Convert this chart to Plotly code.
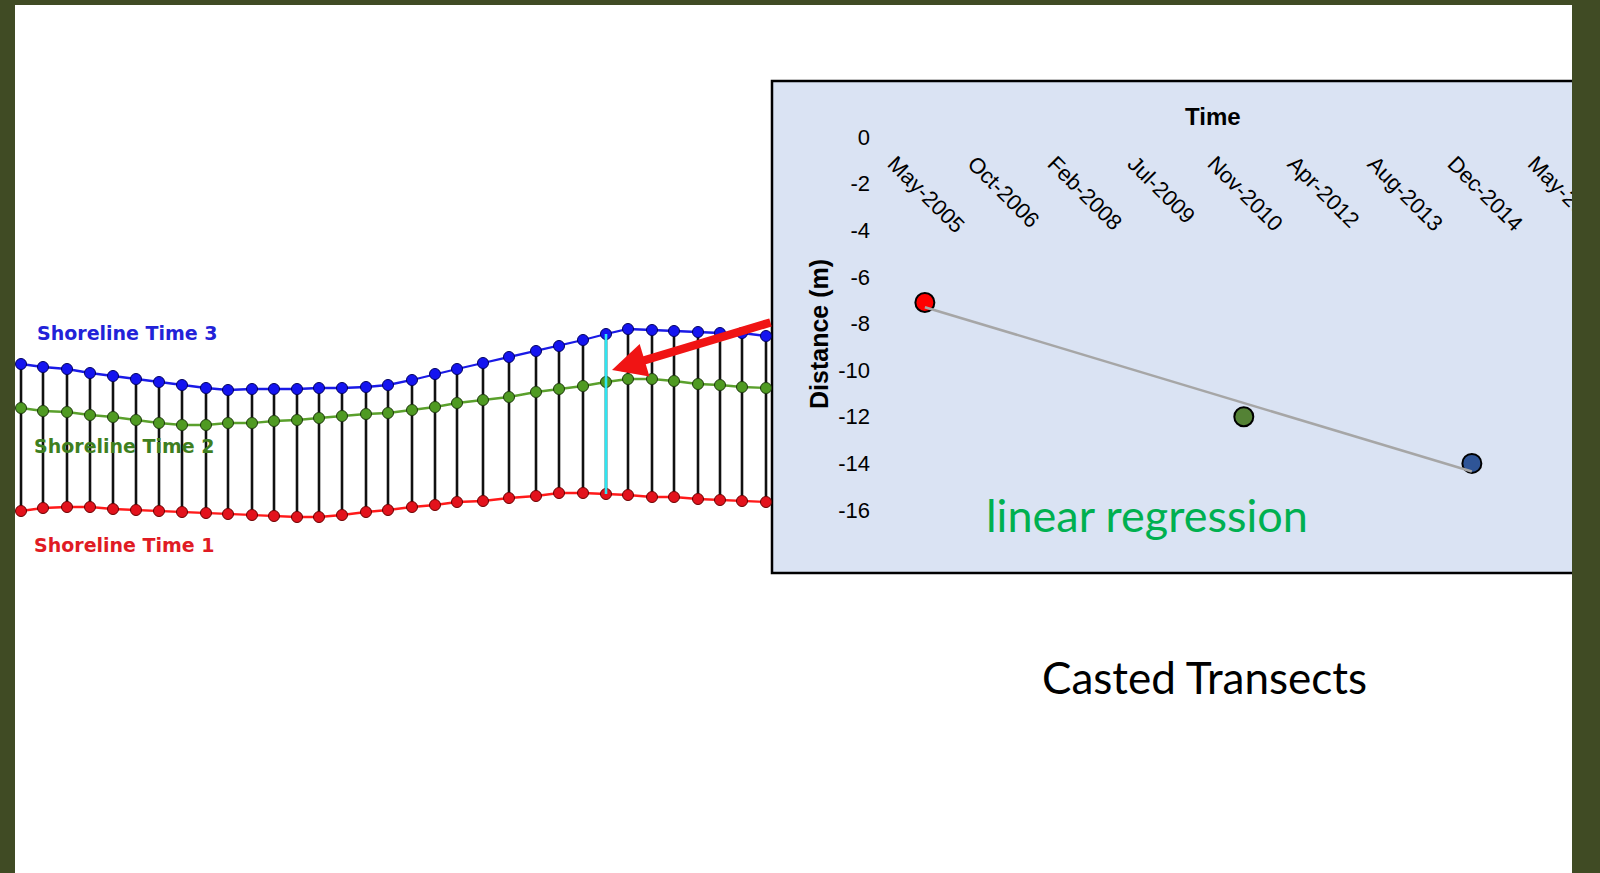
import plotly.graph_objects as go

W, H = 1600, 873

# ---------------- Left diagram: casted transects (image units) ----------------
transect_x = [21, 43, 67, 90, 113, 136, 159, 182, 206, 228, 252, 274, 297, 319, 342, 366, 388,
              412, 435, 457, 483, 509, 536, 559, 583, 606, 628, 652, 674, 698, 720, 742, 766]
shore_t3 = [364, 367, 369, 373, 376, 379, 382, 385, 388, 390, 389, 389, 389, 388, 388, 387, 385,
            380, 374, 369, 363, 357, 351, 346, 340, 334, 329, 330, 331, 332, 333, 333, 336]
shore_t2 = [408, 411, 412, 415, 417, 420, 423, 425, 425, 423, 423, 421, 420, 418, 416, 414, 413,
            410, 407, 403, 400, 397, 392, 389, 386, 382, 379, 379, 381, 384, 385, 387, 388]
shore_t1 = [511, 508, 507, 507, 509, 510, 511, 512, 513, 514, 515, 516, 517, 517, 515, 512, 510,
            507, 505, 502, 501, 498, 496, 493, 493, 494, 495, 497, 497, 499, 500, 501, 502]
selected_transect = 25
shoreline_names = ["Shoreline Time 1", "Shoreline Time 2", "Shoreline Time 3"]

# ---------------- Inset: distance vs time ----------------
survey_dates = ["2005-12-04", "2011-05-24", "2015-04-21"]
distance_m = [-7.1, -12.0, -14.0]
survey_colors = ["#ff0000", "#548235", "#2f5597"]
regression_dates = ["2005-12-04", "2015-04-21"]
regression_m = [-7.3, -14.35]
tick_dates = ["2005-05-25", "2006-10-08", "2008-02-21", "2009-07-05", "2010-11-18",
              "2012-04-02", "2013-08-16", "2014-12-30", "2016-05-15"]
tick_labels = ["May-2005", "Oct-2006", "Feb-2008", "Jul-2009", "Nov-2010",
               "Apr-2012", "Aug-2013", "Dec-2014", "May-2016"]
distance_ticks = [0, -2, -4, -6, -8, -10, -12, -14, -16]
distance_tick_labels = ["0", "-2", "-4", "-6", "-8", "-10", "-12", "-14", "-16"]


def px(x):
    return x / W


def py(y):
    return 1 - y / H


fig = go.Figure()

# transects (black)
tx, ty = [], []
for x, a, b in zip(transect_x, shore_t1, shore_t3):
    tx += [x, x, None]
    ty += [a, b, None]
fig.add_trace(go.Scatter(x=tx, y=ty, mode="lines", line=dict(color="#111111", width=2.6),
                         xaxis="x2", yaxis="y2", hoverinfo="skip", showlegend=False))

series = [
    (shore_t1, "#ff1a1a", "#e3121c", "#6a0000"),
    (shore_t2, "#5aa02c", "#4f9a22", "#1d3a0c"),
    (shore_t3, "#1a1ae6", "#1414f0", "#000060"),
]
for (vals, lc, mc, ol), name in zip(series, shoreline_names):
    fig.add_trace(go.Scatter(x=transect_x, y=vals, mode="lines+markers", name=name,
                             line=dict(color=lc, width=2.3),
                             marker=dict(size=11, color=mc, line=dict(color=ol, width=1)),
                             xaxis="x2", yaxis="y2", showlegend=False))

# selected transect (cyan)
fig.add_trace(go.Scatter(x=[transect_x[selected_transect]] * 2,
                         y=[shore_t1[selected_transect], shore_t3[selected_transect]],
                         mode="lines", line=dict(color="#2ee6f2", width=2.6),
                         xaxis="x2", yaxis="y2", showlegend=False))

# inset points and regression line
fig.add_trace(go.Scatter(x=survey_dates, y=distance_m, mode="markers",
                         marker=dict(size=19, color=survey_colors, line=dict(color="#000000", width=2)),
                         xaxis="x", yaxis="y", showlegend=False))
fig.add_trace(go.Scatter(x=regression_dates, y=regression_m, mode="lines",
                         line=dict(color="#a6a6a6", width=2.5),
                         xaxis="x", yaxis="y", showlegend=False))

ARIAL = "Liberation Sans, Arial, sans-serif"

fig.update_layout(
    width=W, height=H,
    margin=dict(l=0, r=0, t=0, b=0, pad=0, autoexpand=False),
    paper_bgcolor="#ffffff",
    plot_bgcolor="rgba(0,0,0,0)",
    showlegend=False,
    xaxis=dict(type="date", domain=[px(876), px(1572)], range=["2005-02-01", "2017-01-07"],
               tickvals=tick_dates, ticktext=tick_labels, tickangle=45, automargin=False,
               anchor="free", position=py(137), side="bottom", ticklabeloverflow="allow",
               showgrid=False, zeroline=False, showline=False,
               ticks="outside", ticklen=4, tickcolor="rgba(0,0,0,0)",
               tickfont=dict(family=ARIAL, size=22, color="#000000")),
    yaxis=dict(domain=[py(510), py(137)], range=[-16, 0], tickvals=distance_ticks,
               ticktext=distance_tick_labels, automargin=False,
               anchor="free", position=px(870),
               showgrid=False, zeroline=False, showline=False, ticks="",
               tickfont=dict(family=ARIAL, size=22, color="#000000")),
    xaxis2=dict(domain=[0, 1], range=[0, W], visible=False, anchor="y2", automargin=False),
    yaxis2=dict(domain=[0, 1], range=[H, 0], visible=False, anchor="x2", automargin=False),
)

OLIVE = "#404b24"
fig.add_shape(type="rect", xref="paper", yref="paper", x0=px(772), x1=1, y0=py(573), y1=py(81),
              fillcolor="#dae3f3", line=dict(color="#000000", width=2.5), layer="below")
fig.add_shape(type="rect", xref="paper", yref="paper", x0=0, x1=px(15), y0=0, y1=1,
              fillcolor=OLIVE, line=dict(width=0), layer="above")
fig.add_shape(type="rect", xref="paper", yref="paper", x0=0, x1=1, y0=py(5), y1=1,
              fillcolor=OLIVE, line=dict(width=0), layer="above")
fig.add_shape(type="rect", xref="paper", yref="paper", x0=px(1572), x1=1, y0=0, y1=1,
              fillcolor=OLIVE, line=dict(width=0), layer="above")

# arrow
fig.add_annotation(x=612, y=370, ax=772, ay=322, xref="x2", yref="y2", axref="x2", ayref="y2",
                   text="", showarrow=True, arrowhead=2, arrowsize=0.8, arrowwidth=8.5,
                   arrowcolor="#f01414")

# texts
fig.add_annotation(x=px(1213), y=py(117), xref="paper", yref="paper", text="<b>Time</b>",
                   xanchor="center", yanchor="middle",
                   showarrow=False, font=dict(family=ARIAL, size=24, color="#000000"))
fig.add_annotation(x=px(819), y=py(334), xref="paper", yref="paper", text="<b>Distance (m)</b>",
                   xanchor="center", yanchor="middle",
                   textangle=-90, showarrow=False, font=dict(family=ARIAL, size=25, color="#000000"))
fig.add_annotation(x=px(1147), y=py(515), xref="paper", yref="paper", text="linear regression",
                   xanchor="center", yanchor="middle",
                   showarrow=False, font=dict(family="Lato, sans-serif", size=45, color="#00b050"))
fig.add_annotation(x=px(1204), y=py(677), xref="paper", yref="paper", text="Casted Transects",
                   xanchor="center", yanchor="middle",
                   showarrow=False, font=dict(family="Lato, sans-serif", size=44, color="#000000"))

label_pos = [(32, 545, "#e01b24"), (32, 446, "#3f7f1f"), (35, 333, "#2222d8")]
for name, (lx, ly, col) in zip(shoreline_names, label_pos):
    fig.add_annotation(x=px(lx), y=py(ly), xref="paper", yref="paper", text="<b>%s</b>" % name,
                       xanchor="left", yanchor="middle", showarrow=False,
                       font=dict(family="DejaVu Sans, Verdana, sans-serif", size=19, color=col))

post = "document.body.style.margin='0';document.body.style.overflow='hidden';"
fig.write_html("out.html", config={"displayModeBar": False}, post_script=post)
